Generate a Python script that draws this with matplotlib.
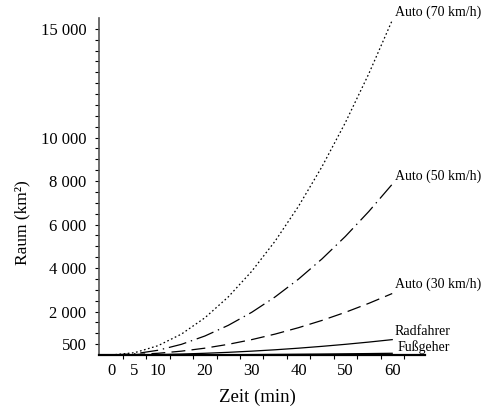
import matplotlib
matplotlib.use('Agg')
import matplotlib.pyplot as plt
from matplotlib.ticker import FixedLocator, NullFormatter

plt.rcParams['font.family'] = ['Liberation Serif', 'DejaVu Serif']
plt.rcParams['lines.scale_dashes'] = False

# time in minutes
zeit = [0, 5, 10, 15, 20, 25, 30, 35, 40, 45, 50, 55, 60]

# reachable area in km^2
auto70 = [0, 107, 428, 962, 1710, 2672, 3848, 5238, 6842, 8659, 10690, 12935, 15394]
auto50 = [0, 55, 218, 491, 873, 1364, 1963, 2672, 3491, 4418, 5454, 6600, 7854]
auto30 = [0, 20, 79, 177, 314, 491, 707, 962, 1257, 1590, 1963, 2376, 2827]
radfahrer = [0, 5, 20, 44, 79, 123, 177, 240, 314, 398, 491, 594, 707]
fussgeher = [0, 0.5, 2, 5, 9, 14, 20, 27, 35, 44, 55, 66, 79]

names = ['Auto (70 km/h)', 'Auto (50 km/h)', 'Auto (30 km/h)', 'Radfahrer', 'Fußgeher']
label_offsets = [(2, 5.5), (2, 6), (2, 7), (2, 6), (4, 4.5)]

x_labels = [0, 5, 10, 20, 30, 40, 50, 60]
x_minor = [2.5, 7.5, 12.5, 17.5, 22.5, 27.5, 32.5, 37.5, 42.5, 47.5, 52.5, 57.5, 62.5]
y_labels = [500, 2000, 4000, 6000, 8000, 10000, 15000]
y_all = list(range(500, 15001, 500))

fig = plt.figure(figsize=(4.88, 4.11), dpi=100)
ax = fig.add_axes([99 / 488, 1 - 355 / 411, 326 / 488, 337 / 411])

series = [auto70, auto50, auto30, radfahrer, fussgeher]
styles = [
    dict(dashes=(1.2, 1.8)),
    dict(dashes=(13, 3.5, 1, 3.5)),
    dict(dashes=(10, 4.5)),
    dict(linestyle='-'),
    dict(linestyle='-'),
]
for vals, st, name, off in zip(series, styles, names, label_offsets):
    ax.plot(zeit, vals, color='black', linewidth=0.9, **st)
    ax.annotate(name, xy=(zeit[-1], vals[-1]), xytext=off, textcoords='offset points',
                ha='left', va='center', fontsize=10)

ax.set_xlim(-2.6, 67)
ax.set_ylim(0, 15500)

ax.spines['top'].set_visible(False)
ax.spines['right'].set_visible(False)
ax.spines['left'].set_color('#555555')
ax.spines['left'].set_linewidth(1.2)
ax.spines['bottom'].set_linewidth(1.6)

ax.xaxis.set_major_locator(FixedLocator(x_labels))
ax.set_xticklabels([str(v) for v in x_labels])
ax.xaxis.set_minor_locator(FixedLocator(x_minor))
ax.xaxis.set_minor_formatter(NullFormatter())
ax.tick_params(axis='x', which='major', length=0, pad=6, labelsize=12)
ax.tick_params(axis='x', which='minor', length=3, width=0.8, direction='out')

ax.yaxis.set_major_locator(FixedLocator(y_labels))
ax.set_yticklabels(['{:,}'.format(v).replace(',', ' ') for v in y_labels])
ax.yaxis.set_minor_locator(FixedLocator([v for v in y_all if v not in y_labels]))
ax.yaxis.set_minor_formatter(NullFormatter())
ax.tick_params(axis='y', which='both', length=3, width=0.8, direction='out', pad=6, labelsize=12)

fig.text(22 / 488, 1 - 223 / 411, 'Raum (km²)', rotation=90, ha='center', va='center', fontsize=12.5)
fig.text(257 / 488, 1 - 397 / 411, 'Zeit (min)', ha='center', va='center', fontsize=13.5)

fig.savefig('out.png', dpi=100)
